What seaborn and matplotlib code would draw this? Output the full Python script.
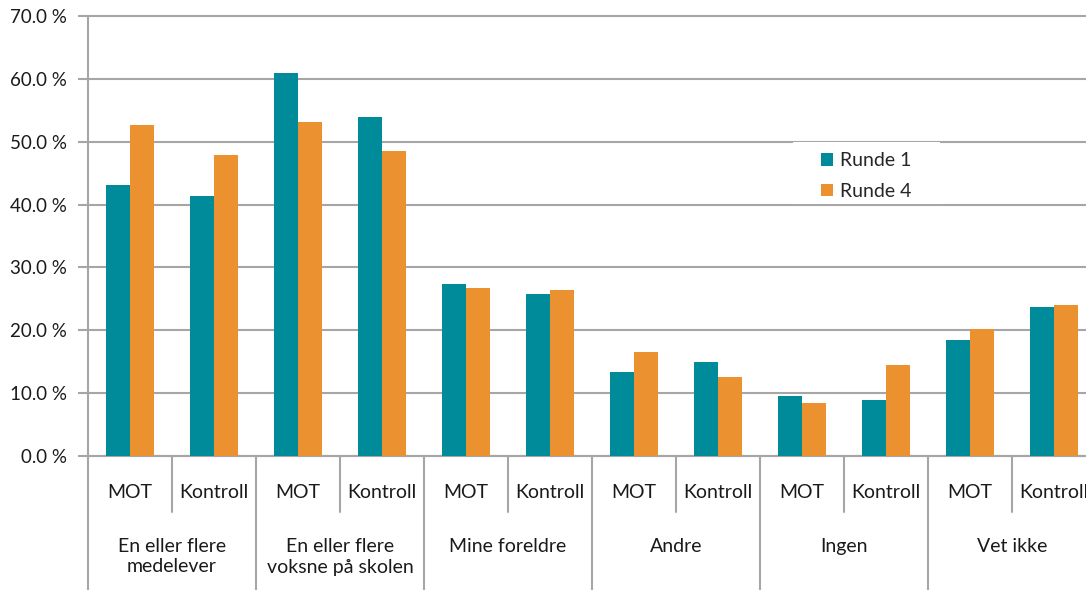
import matplotlib
matplotlib.use("Agg")
import matplotlib.pyplot as plt
import matplotlib.transforms as mtransforms
from matplotlib.patches import Rectangle
import seaborn as sns
import pandas as pd

# ---- data ----
groups = ["En eller flere\nmedelever", "En eller flere\nvoksne på skolen", "Mine foreldre",
          "Andre", "Ingen", "Vet ikke"]
subgroups = ["MOT", "Kontroll"]
series = ["Runde 1", "Runde 4"]
runde1 = [43.1, 41.4, 60.9, 53.9, 27.3, 25.8, 13.4, 14.9, 9.5, 8.9, 18.4, 23.7]
runde4 = [52.7, 47.9, 53.1, 48.5, 26.7, 26.4, 16.6, 12.5, 8.4, 14.4, 20.2, 24.0]
yticks = [0, 10, 20, 30, 40, 50, 60, 70]

colors = ["#008B9A", "#EB9130"]
grid_c = "#A6A6A6"

sns.set_style("white")
plt.rcParams["font.family"] = ["Lato", "DejaVu Sans"]

cats = [f"{g}|{s}" for g in groups for s in subgroups]
rows = []
for i, c in enumerate(cats):
    rows.append({"cat": c, "Runde": series[0], "val": runde1[i]})
    rows.append({"cat": c, "Runde": series[1], "val": runde4[i]})
df = pd.DataFrame(rows)

W, H = 1086, 590
fig = plt.figure(figsize=(W / 100, H / 100), dpi=100)
left, right, top, bottom = 88, 1096, 16, 456
ax = fig.add_axes([left / W, (H - bottom) / H, (right - left) / W, (bottom - top) / H])

sns.barplot(data=df, x="cat", y="val", hue="Runde", order=cats, hue_order=series,
            palette=colors, width=0.57, ax=ax, saturation=1, edgecolor="none",
            errorbar=None, zorder=3)

ax.set_xlim(-0.5, len(cats) - 0.5)
ax.set_ylim(0, 70)
ax.set_yticks(yticks)
ax.set_yticklabels([f"{v:.1f} %" for v in yticks], fontsize=13.5, color="#1a1a1a")
ax.yaxis.grid(True, color=grid_c, linewidth=1.5, zorder=0)
ax.set_axisbelow(True)
ax.tick_params(axis="y", length=7, width=1.5, color=grid_c, pad=8, left=True)
ax.tick_params(axis="x", bottom=False, labelbottom=False)
ax.set_xlabel("")
ax.set_ylabel("")
for s in ["top", "right"]:
    ax.spines[s].set_visible(False)
for s in ["left", "bottom"]:
    ax.spines[s].set_color(grid_c)
    ax.spines[s].set_linewidth(1.5)

# top gridline unclipped
for gl in ax.yaxis.get_gridlines():
    gl.set_clip_on(False)

# multi-level x axis
trans = mtransforms.blended_transform_factory(ax.transData, ax.transAxes)
axh = bottom - top
sub_bot = -(512 - bottom) / axh
grp_bot = -(590 - bottom) / axh
for i in range(len(cats) + 1):
    xb = i - 0.5
    yb = grp_bot if i % 2 == 0 else sub_bot
    ax.plot([xb, xb], [0, yb], transform=trans, color=grid_c, lw=1.5, clip_on=False, zorder=5)
for i, c in enumerate(cats):
    ax.text(i, -(492 - bottom) / axh, c.split("|")[1], transform=trans,
            ha="center", va="center", fontsize=14, color="#1a1a1a")
for j, g in enumerate(groups):
    ax.text(2 * j + 0.5, -(538 - bottom) / axh, g, transform=trans, ha="center", va="top",
            fontsize=14, color="#1a1a1a", linespacing=1.25)

# legend with white background box
lx0, lx1, ly0, ly1 = 793, 940, 142, 204
ax.add_patch(Rectangle(((lx0 - left) / (right - left), (bottom - ly1) / axh),
                       (lx1 - lx0) / (right - left), (ly1 - ly0) / axh,
                       transform=ax.transAxes, facecolor="white", edgecolor="none", zorder=2))
handles, labels = ax.get_legend_handles_labels()
leg = ax.legend(handles, labels, loc="center left",
                bbox_to_anchor=((821 - left) / (right - left), (bottom - 176) / axh),
                frameon=False, fontsize=14, handlelength=0.6, handleheight=0.6,
                handletextpad=0.4, labelspacing=0.7, borderpad=0, borderaxespad=0)
leg.set_zorder(6)

fig.savefig("out.png", dpi=100)
